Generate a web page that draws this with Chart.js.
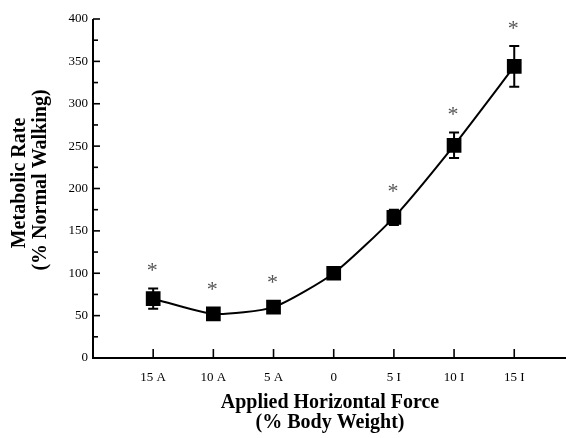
<!DOCTYPE html>
<html><head><meta charset="utf-8">
<script src="https://cdn.jsdelivr.net/npm/chart.js@4"></script>
<style>html,body{margin:0;padding:0;background:#fff}#wrap{width:566px;height:438px}</style>
</head><body><div id="wrap"><canvas id="c" width="566" height="438"></canvas></div>
<script>
const categories = ["15 A", "10 A", "5 A", "0", "5 I", "10 I", "15 I"];
const metabolicRate = [70, 52, 60, 100, 166, 251, 344];
const errorSD = [12, 4, 4, 3, 9, 15, 24];
const significant = [true, true, true, false, true, true, true];
const yTicks = [0, 50, 100, 150, 200, 250, 300, 350, 400];

const FONT = "'Liberation Serif', 'Times New Roman', serif";

const points = metabolicRate.map((v, i) => ({x: i, y: v}));

const customPlugin = {
  id: 'custom',
  beforeDatasetsDraw(chart) {
    const ctx = chart.ctx, xs = chart.scales.x, ys = chart.scales.y, a = chart.chartArea;
    ctx.save();
    ctx.strokeStyle = '#000';
    ctx.lineWidth = 2;
    ctx.beginPath();
    ctx.moveTo(a.left, a.top); ctx.lineTo(a.left, a.bottom); ctx.lineTo(a.right, a.bottom);
    ctx.stroke();
    ctx.lineWidth = 1.6;
    for (let v = 0; v <= 400; v += 25) {
      const y = ys.getPixelForValue(v);
      const len = (v % 50 === 0) ? 7 : 5;
      ctx.beginPath(); ctx.moveTo(a.left, y); ctx.lineTo(a.left + len, y); ctx.stroke();
    }
    categories.forEach((c, i) => {
      const x = xs.getPixelForValue(i);
      ctx.beginPath(); ctx.moveTo(x, a.bottom); ctx.lineTo(x, a.bottom - 9); ctx.stroke();
    });
    ctx.lineWidth = 2;
    metabolicRate.forEach((v, i) => {
      const x = xs.getPixelForValue(i);
      const yt = ys.getPixelForValue(v + errorSD[i]);
      const yb = ys.getPixelForValue(v - errorSD[i]);
      ctx.beginPath();
      ctx.moveTo(x, yt); ctx.lineTo(x, yb);
      ctx.moveTo(x - 5, yt); ctx.lineTo(x + 5, yt);
      ctx.moveTo(x - 5, yb); ctx.lineTo(x + 5, yb);
      ctx.stroke();
    });
    ctx.restore();
  },
  afterDraw(chart) {
    const ctx = chart.ctx, xs = chart.scales.x, ys = chart.scales.y;
    ctx.save();
    ctx.fillStyle = '#555';
    ctx.font = "22px " + FONT;
    ctx.textAlign = 'center';
    ctx.textBaseline = 'middle';
    metabolicRate.forEach((v, i) => {
      if (!significant[i]) return;
      const x = xs.getPixelForValue(i);
      const top = Math.min(ys.getPixelForValue(v + errorSD[i]), ys.getPixelForValue(v) - 7);
      ctx.fillText('*', x - 1, top - 17);
    });
    ctx.fillStyle = '#000';
    ctx.font = "bold 20px " + FONT;
    ctx.textAlign = 'center';
    ctx.textBaseline = 'middle';
    ctx.fillText('Applied Horizontal Force', 330, 403);
    ctx.fillText('(% Body Weight)', 330, 423);
    ctx.save();
    ctx.translate(20, 183);
    ctx.rotate(-Math.PI / 2);
    ctx.fillText('Metabolic Rate', 0, 0);
    ctx.restore();
    ctx.save();
    ctx.translate(41, 180);
    ctx.rotate(-Math.PI / 2);
    ctx.fillText('(% Normal Walking)', 0, 0);
    ctx.restore();
    ctx.restore();
  }
};

new Chart(document.getElementById('c'), {
  type: 'line',
  data: {
    datasets: [{
      data: points,
      borderColor: '#000',
      backgroundColor: '#000',
      borderWidth: 2,
      pointStyle: 'rect',
      pointRadius: 9,
      pointHoverRadius: 9,
      pointBackgroundColor: '#000',
      pointBorderColor: '#000',
      tension: 0.2,
      fill: false
    }]
  },
  options: {
    responsive: false,
    animation: false,
    events: [],
    layout: { autoPadding: false, padding: { top: 19, right: 0, left: 0, bottom: 0 } },
    plugins: { legend: { display: false }, tooltip: { enabled: false } },
    scales: {
      x: {
        type: 'linear',
        min: -1,
        max: 6.86,
        grid: { display: false, drawTicks: false },
        border: { display: false },
        afterBuildTicks: (s) => { s.ticks = categories.map((c, i) => ({ value: i })); },
        ticks: {
          autoSkip: false,
          maxRotation: 0,
          padding: 12,
          color: '#000',
          font: { family: FONT, size: 13 },
          callback: (v) => categories[v] !== undefined ? categories[v] : ''
        },
        afterFit: (s) => { s.height = 80; s.paddingLeft = 0; s.paddingRight = 0; }
      },
      y: {
        type: 'linear',
        min: 0,
        max: 400,
        grid: { display: false, drawTicks: false },
        border: { display: false },
        afterBuildTicks: (s) => { s.ticks = yTicks.map(v => ({ value: v })); },
        ticks: {
          padding: 5,
          color: '#000',
          font: { family: FONT, size: 13 }
        },
        afterFit: (s) => { s.width = 93; s.paddingTop = 0; s.paddingBottom = 0; }
      }
    }
  },
  plugins: [customPlugin]
});
</script>
</body></html>
